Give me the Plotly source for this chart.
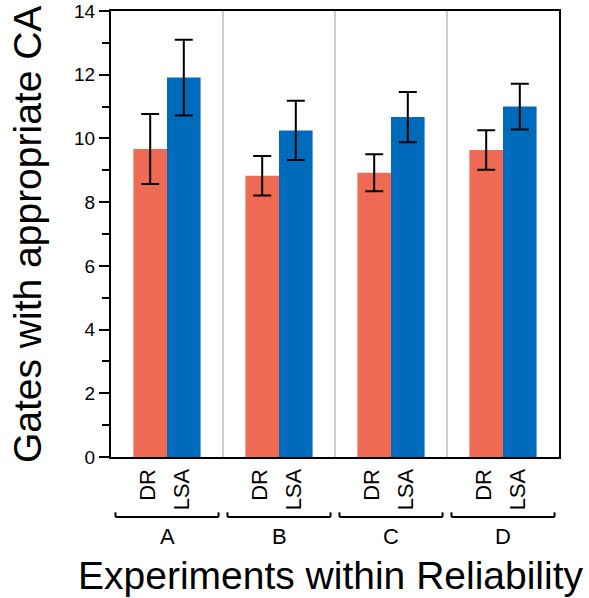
import plotly.graph_objects as go

groups = ["A", "B", "C", "D"]
methods = ["DR", "LSA"]
dr_values = [9.67, 8.83, 8.92, 9.64]
dr_errors = [1.10, 0.62, 0.58, 0.62]
lsa_values = [11.91, 10.25, 10.67, 11.00]
lsa_errors = [1.19, 0.93, 0.79, 0.72]
y_tick_values = [0, 2, 4, 6, 8, 10, 12, 14]

DR_COLOR = "#EE6A52"
LSA_COLOR = "#006BBB"
FONT = "Liberation Sans, Arial, Helvetica, sans-serif"

gx = list(range(len(groups)))
offsets = [-0.15, 0.15]

fig = go.Figure()
fig.add_trace(go.Bar(
    x=gx, y=dr_values, name="DR", marker=dict(color=DR_COLOR, line=dict(width=0)),
    error_y=dict(type="data", array=dr_errors, color="black", thickness=2, width=9),
))
fig.add_trace(go.Bar(
    x=gx, y=lsa_values, name="LSA", marker=dict(color=LSA_COLOR, line=dict(width=0)),
    error_y=dict(type="data", array=lsa_errors, color="black", thickness=2, width=9),
))

shapes = []
annotations = []
# gray separators between groups
for g in gx[:-1]:
    shapes.append(dict(type="line", xref="x", yref="paper", x0=g + 0.5, x1=g + 0.5, y0=0, y1=1,
                       line=dict(color="#cccccc", width=2), layer="below"))
# method labels, brackets and group labels
by = -0.1345
bt = -0.124
for g, name in zip(gx, groups):
    for m, off in zip(methods, offsets):
        annotations.append(dict(x=g + off - 0.02, y=-0.022, xref="x", yref="paper", text=m,
                                showarrow=False, textangle=-90, yanchor="top", xanchor="center",
                                font=dict(size=22, color="black", family=FONT)))
    x0, x1 = g - 0.46, g + 0.46
    shapes.append(dict(type="line", xref="x", yref="paper", x0=x0, x1=x1, y0=by, y1=by,
                       line=dict(color="black", width=2)))
    for xe in (x0, x1):
        shapes.append(dict(type="line", xref="x", yref="paper", x0=xe, x1=xe, y0=by, y1=bt,
                           line=dict(color="black", width=2)))
    annotations.append(dict(x=g, y=-0.179, xref="x", yref="paper", text=name, showarrow=False,
                            font=dict(size=22, color="black", family=FONT), yanchor="middle"))

annotations.append(dict(x=0.492, y=-0.265, xref="paper", yref="paper",
                        text="Experiments within Reliability", showarrow=False,
                        font=dict(size=39, color="black", family=FONT), yanchor="middle"))
annotations.append(dict(x=-0.185, y=0.498, xref="paper", yref="paper",
                        text="Gates with appropriate CA", showarrow=False, textangle=-90,
                        font=dict(size=39, color="black", family=FONT), xanchor="center"))

fig.update_layout(
    width=589, height=598,
    margin=dict(l=111, r=30, t=11, b=141),
    paper_bgcolor="white", plot_bgcolor="white",
    barmode="group", bargap=0.4, bargroupgap=0,
    showlegend=False,
    font=dict(family=FONT, color="black"),
    shapes=shapes, annotations=annotations,
    xaxis=dict(range=[-0.5, 3.5], showticklabels=False, ticks="", showline=True,
               linecolor="black", linewidth=2, mirror=True, showgrid=False, zeroline=False,
               automargin=False),
    yaxis=dict(range=[0, 14], tickvals=y_tick_values, tickfont=dict(size=19), ticks="outside",
               ticklen=10, tickwidth=2, tickcolor="black", showline=True, linecolor="black",
               linewidth=2, mirror=True, showgrid=False, zeroline=False, automargin=False,
               minor=dict(dtick=1, ticks="outside", ticklen=7, tickwidth=2, tickcolor="black")),
)

fig.write_html("out.html")
